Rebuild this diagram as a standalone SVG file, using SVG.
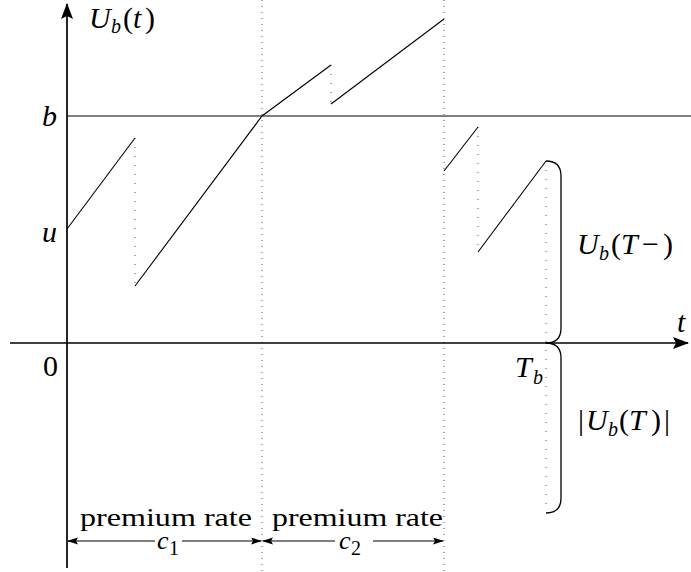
<svg xmlns="http://www.w3.org/2000/svg" width="691" height="572" viewBox="0 0 691 572">
<style>
 .ax{stroke:#000;stroke-width:1.7;fill:none}
 .bl{stroke:#555;stroke-width:1.4;fill:none}
 .g{stroke:#000;stroke-width:1.1;fill:none}
 .d{stroke:#666;stroke-width:1.1;stroke-dasharray:1 5;fill:none}
 .ds{stroke:#666;stroke-width:1.1;stroke-dasharray:1 8;fill:none}
 .br{stroke:#000;stroke-width:1.3;fill:none}
 .dim{stroke:#000;stroke-width:1.1;fill:none}
 text{font-family:"Liberation Serif","Times New Roman",serif;font-size:30px;fill:#000}
 .i{font-style:italic}
 .s{font-size:20px}
 .pr{font-size:26px}
 .c{font-size:26px}
</style>
<defs>
 <marker id="axh" markerUnits="userSpaceOnUse" markerWidth="18" markerHeight="14" refX="15" refY="6" orient="auto"><path d="M0,0 L16,6 L0,12 L3,6 Z" fill="#000"/></marker>
 <marker id="dh" markerUnits="userSpaceOnUse" markerWidth="12" markerHeight="8" refX="10" refY="3.5" orient="auto-start-reverse"><path d="M0,0 L11,3.5 L0,7 L2,3.5 Z" fill="#000"/></marker>
</defs>
<g id="guides">
 <path class="d" d="M262,0 V572"/>
 <path class="d" d="M444,0 V572"/>
 <path class="ds" d="M135,138 V286"/>
 <path class="ds" d="M331,65 V104"/>
 <path class="ds" d="M478,127 V252"/>
 <path class="ds" d="M546,161 V505"/>
</g>
<g id="axes">
 <path class="bl" d="M67,116 H691"/>
 <path class="ax" d="M10,343 H688" marker-end="url(#axh)"/>
 <path class="ax" d="M67,568 V4" marker-end="url(#axh)"/>
</g>
<g id="graph">
 <path class="g" d="M67,229 L135,138"/>
 <path class="g" d="M135,286 L262,116 L331,65"/>
 <path class="g" d="M331,104 L444,19"/>
 <path class="g" d="M444,171 L478,127"/>
 <path class="g" d="M478,252 L546,161"/>
</g>
<g id="braces">
 <path class="br" d="M546,161 Q561,161 561,176 V328 Q561,343 546,343"/>
 <path class="br" d="M546,343 Q561,343 561,358 V498 Q561,513 546,513"/>
</g>
<g id="dimensions">
 <path class="dim" d="M155,541 H68" marker-end="url(#dh)"/>
 <path class="dim" d="M182,541 H261" marker-end="url(#dh)"/>
 <path class="dim" d="M335,541 H263" marker-end="url(#dh)"/>
 <path class="dim" d="M373,541 H443" marker-end="url(#dh)"/>
</g>
<g id="labels">
 <text><tspan class="i" x="89" y="28">U</tspan><tspan class="i s" x="111" y="33">b</tspan><tspan x="123" y="28">(</tspan><tspan class="i" x="133" y="28">t</tspan><tspan x="145" y="28">)</tspan></text>
 <text class="i" x="42" y="126">b</text>
 <text class="i" x="42" y="242">u</text>
 <text x="43" y="376">0</text>
 <text class="i" x="677" y="332">t</text>
 <text><tspan class="i" x="515" y="377">T</tspan><tspan class="i s" x="533" y="384">b</tspan></text>
 <text><tspan class="i" x="577" y="254">U</tspan><tspan class="i s" x="599" y="260">b</tspan><tspan x="611" y="254">(</tspan><tspan class="i" x="621" y="254">T</tspan><tspan x="642" y="254">−</tspan><tspan x="663" y="254">)</tspan></text>
 <text><tspan x="578" y="430">|</tspan><tspan class="i" x="586" y="430">U</tspan><tspan class="i s" x="608" y="436">b</tspan><tspan x="619" y="430">(</tspan><tspan class="i" x="629" y="430">T</tspan><tspan x="651" y="430">)</tspan><tspan x="664" y="430">|</tspan></text>
 <text class="pr" x="80" y="526" textLength="172" lengthAdjust="spacingAndGlyphs">premium rate</text>
 <text class="pr" x="272" y="526" textLength="171" lengthAdjust="spacingAndGlyphs">premium rate</text>
 <text><tspan class="i c" x="157" y="549">c</tspan><tspan class="s" x="169" y="555">1</tspan></text>
 <text><tspan class="i c" x="339" y="549">c</tspan><tspan class="s" x="351" y="555">2</tspan></text>
</g>
</svg>
